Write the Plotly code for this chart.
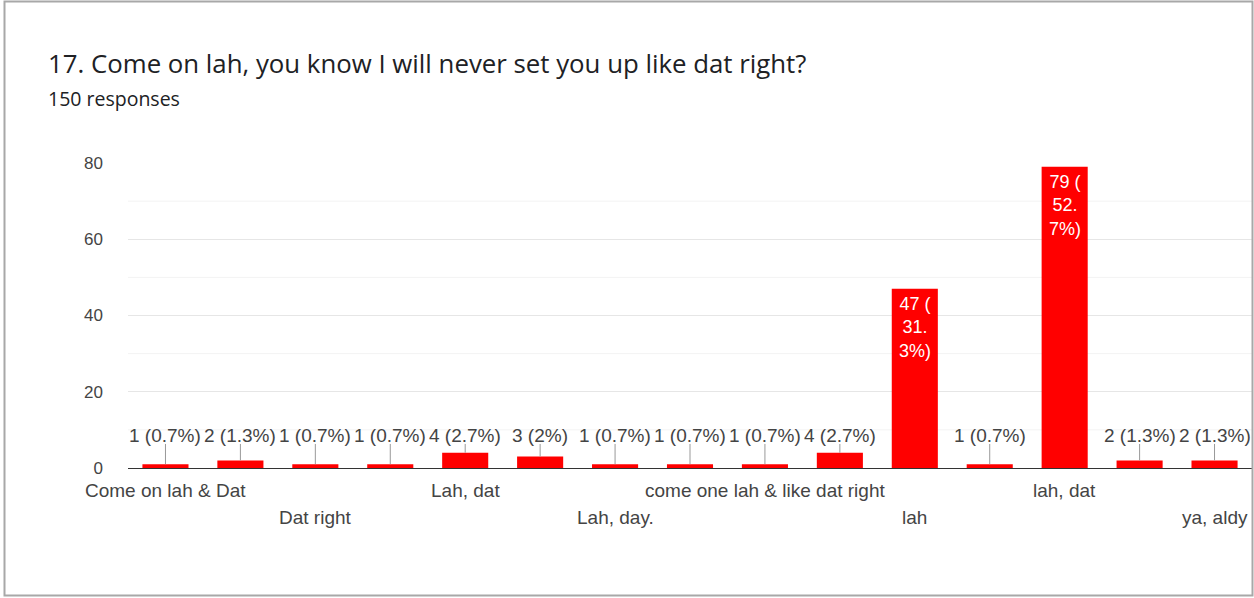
import plotly.graph_objects as go

# Survey answers (only every other one is labelled on the axis)
categories = ["Come on lah & Dat", "", "Dat right", "", "Lah, dat", "", "Lah, day.", "",
              "come one lah & like dat right", "", "lah", "", "lah, dat", "", "ya, aldy"]
counts = [1, 2, 1, 1, 4, 3, 1, 1, 1, 4, 47, 1, 79, 2, 2]
y_ticks = [0, 20, 40, 60, 80]
total_responses = 150

title_text = "17. Come on lah, you know I will never set you up like dat right?"
subtitle_text = f"{total_responses} responses"

W, H = 1254, 598
M_L, M_R, M_T, M_B = 128, 2, 163, 130
plot_w = W - M_L - M_R
plot_h = H - M_T - M_B

BAR = "#ff0000"
TXT = "#444444"
FONT = "Liberation Sans, Arial, sans-serif"
HEAD_FONT = "Open Sans, sans-serif"


def pct(v):
    p = round(v / total_responses * 100, 1)
    s = f"{p:.1f}".rstrip("0").rstrip(".")
    return f"{v} ({s}%)"


def px_x(px):
    return (px - M_L) / plot_w


def px_y(py):
    return (H - M_B - py) / plot_h


xs = list(range(len(counts)))

fig = go.Figure()
fig.add_trace(go.Bar(x=xs, y=counts, marker=dict(color=BAR, line=dict(width=0)),
                     hoverinfo="skip"))

annotations = []
shapes = []

# value labels: outside with a leader line for short bars, inside for tall ones
LABEL_Y = 6.3
for i, v in enumerate(counts):
    if v > 20:
        p = round(v / total_responses * 100, 1)
        ptxt = f"{p:.1f}".rstrip("0").rstrip(".")
        whole, frac = ptxt.split(".")
        txt = f"{v} (<br>{whole}.<br>{frac}%)"
        annotations.append(dict(x=i, y=v, xref="x", yref="y", text=txt, showarrow=False,
                                yanchor="top", xanchor="center", yshift=-3,
                                font=dict(family=FONT, size=18, color="#ffffff"),
                                align="center"))
    else:
        shapes.append(dict(type="line", xref="x", yref="y", x0=i, x1=i, y0=v, y1=LABEL_Y,
                           line=dict(color="#999999", width=1)))
        annotations.append(dict(x=i, y=LABEL_Y, xref="x", yref="y", text=pct(v),
                                showarrow=False, yanchor="bottom", xanchor="center",
                                yshift=-4,
                                font=dict(family=FONT, size=19, color=TXT)))

# category labels, staggered on two rows
for i, name in enumerate(categories):
    if not name:
        continue
    row = (i // 2) % 2
    annotations.append(dict(x=i, y=px_y(490 + row * 27), xref="x", yref="paper", text=name,
                            showarrow=False, yanchor="middle", xanchor="center",
                            font=dict(family=FONT, size=19, color=TXT)))

# title and response count
annotations.append(dict(x=px_x(46), y=px_y(63), xref="paper", yref="paper", text=title_text,
                        showarrow=False, xanchor="left", yanchor="middle",
                        font=dict(family=HEAD_FONT, size=25.8, color="#202124")))
annotations.append(dict(x=px_x(46), y=px_y(98), xref="paper", yref="paper", text=subtitle_text,
                        showarrow=False, xanchor="left", yanchor="middle",
                        font=dict(family=HEAD_FONT, size=19.5, color="#202124")))

# minor gridlines
for g in [10, 30, 50, 70]:
    shapes.append(dict(type="line", xref="paper", yref="y", x0=0, x1=1, y0=g, y1=g,
                       line=dict(color="#f3f3f3", width=1), layer="below"))

# card border
shapes.append(dict(type="rect", xref="paper", yref="paper",
                   x0=px_x(4.5), x1=px_x(1252.5), y0=px_y(595.5), y1=px_y(1.5),
                   line=dict(color="#a8a8a8", width=2), fillcolor="rgba(0,0,0,0)"))

fig.update_layout(
    width=W, height=H,
    margin=dict(l=M_L, r=M_R, t=M_T, b=M_B, pad=0),
    paper_bgcolor="white", plot_bgcolor="white",
    showlegend=False,
    bargap=0.385,
    annotations=annotations,
    shapes=shapes,
    xaxis=dict(range=[-0.5, len(counts) - 0.5], showticklabels=False, showgrid=False,
               zeroline=False, showline=False, ticks="", fixedrange=True),
    yaxis=dict(range=[0, 80], tickvals=y_ticks, showgrid=True, gridcolor="#e6e6e6",
               gridwidth=1, zeroline=True, zerolinecolor="#333333", zerolinewidth=1,
               showline=False, ticks="", ticklabelstandoff=24,
               tickfont=dict(family=FONT, size=17, color=TXT), fixedrange=True),
)

fig.write_html("out.html", include_plotlyjs=True, config={"displayModeBar": False})
